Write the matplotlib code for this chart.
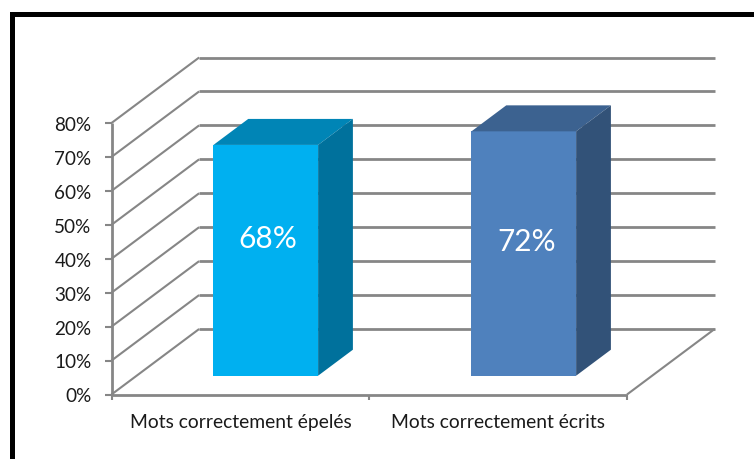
import matplotlib
matplotlib.use('Agg')
import matplotlib.pyplot as plt
from matplotlib.patches import Polygon, Rectangle

categories = ['Mots correctement épelés', 'Mots correctement écrits']
values = [68, 72]
bar_labels = ['68%', '72%']
front_colors = ['#00B0F0', '#4F81BD']
top_colors = ['#0085B6', '#3C6290']
side_colors = ['#00719C', '#325278']
y_ticks = [0, 10, 20, 30, 40, 50, 60, 70, 80]

W, H = 754, 459
GRAY = '#868686'
# how far the back wall is pushed, in data units
DEPTH_X = 0.34
DEPTH_Y = 19.3
BAR_WIDTH = 0.406
BAR_FRONT = 0.287
BAR_BACK = 0.684
BAR_NUDGE = 0.001
LABEL_Y = [45.8, 44.9]
LABEL_DX = [0.008, 0.012]

plt.rcParams['font.family'] = ['Lato', 'DejaVu Sans']

fig = plt.figure(figsize=(W / 100, H / 100), dpi=100)
# axes box = front plane of the 3d chart
ax = fig.add_axes([111.5 / W, 1 - 394.5 / H, 515.5 / W, 271.5 / H])
ax.set_xlim(-0.5, 1.5)
ax.set_ylim(0, 80)
ax.axis('off')


def shift(x, y, depth):
    return x + depth * DEPTH_X, y + depth * DEPTH_Y


def wire(xs, ys, lw=1.5):
    ax.plot(xs, ys, color=GRAY, lw=lw, clip_on=False, solid_capstyle='butt', zorder=1)


# walls and gridlines
left, right = ax.get_xlim()
for t in y_ticks:
    bx, by = shift(left, t, 1)
    ex, ey = shift(right, t, 1)
    wire([left, bx], [t, by])
    wire([bx, ex], [by, ey], lw=2)

# floor front and right edge
wire([left, right], [0, 0], lw=2)
bx, by = shift(right, 0, 1)
wire([right, bx], [0, by])
wire([left, left], [0, 80], lw=2)

# y ticks
tick_w = 6 / 257.25
for t in y_ticks:
    wire([left - tick_w, left], [t, t])
    ax.text(left - 20 / 257.25, t - 0.7, f'{t}%', ha='right', va='center',
            fontsize=13.6, color='#1a1a1a', clip_on=False)

# x ticks
for x in [-0.5, 0.5, 1.5]:
    wire([x, x], [0, -1.6])
for i, cat in enumerate(categories):
    ax.text(i, -8.3, cat, ha='center', va='center', fontsize=13.9,
            color='#1a1a1a', clip_on=False)

# bars
for i, val in enumerate(values):
    c = i + BAR_NUDGE * (i + 1)
    x0, y0 = shift(c - BAR_WIDTH / 2, 0, BAR_FRONT)
    x1, y1 = shift(c + BAR_WIDTH / 2, val, BAR_FRONT)
    x2, y2 = shift(c - BAR_WIDTH / 2, val, BAR_BACK)
    x3, y3 = shift(c + BAR_WIDTH / 2, val, BAR_BACK)
    x4, y4 = shift(c + BAR_WIDTH / 2, 0, BAR_BACK)
    ax.bar((x0 + x1) / 2, y1 - y0, BAR_WIDTH, bottom=y0, color=front_colors[i],
           zorder=3, clip_on=False)
    ax.add_patch(Polygon([(x0, y1), (x1, y1), (x3, y3), (x2, y2)],
                         closed=True, color=top_colors[i], lw=0, zorder=3, clip_on=False))
    ax.add_patch(Polygon([(x1, y0), (x1, y1), (x3, y3), (x4, y4)],
                         closed=True, color=side_colors[i], lw=0, zorder=3, clip_on=False))
    ax.text((x0 + x1) / 2 + LABEL_DX[i], LABEL_Y[i], bar_labels[i], ha='center', va='center',
            color='white', fontsize=21.5, zorder=4, clip_on=False)

# black frame, top and left only reach the picture edges
fig.add_artist(Rectangle((10 / W, 0), 5 / W, 1 - 12 / H, transform=fig.transFigure,
                         color='black', lw=0))
fig.add_artist(Rectangle((10 / W, 1 - 17 / H), 1 - 10 / W, 5 / H, transform=fig.transFigure,
                         color='black', lw=0))

fig.savefig('out.png', dpi=100)
